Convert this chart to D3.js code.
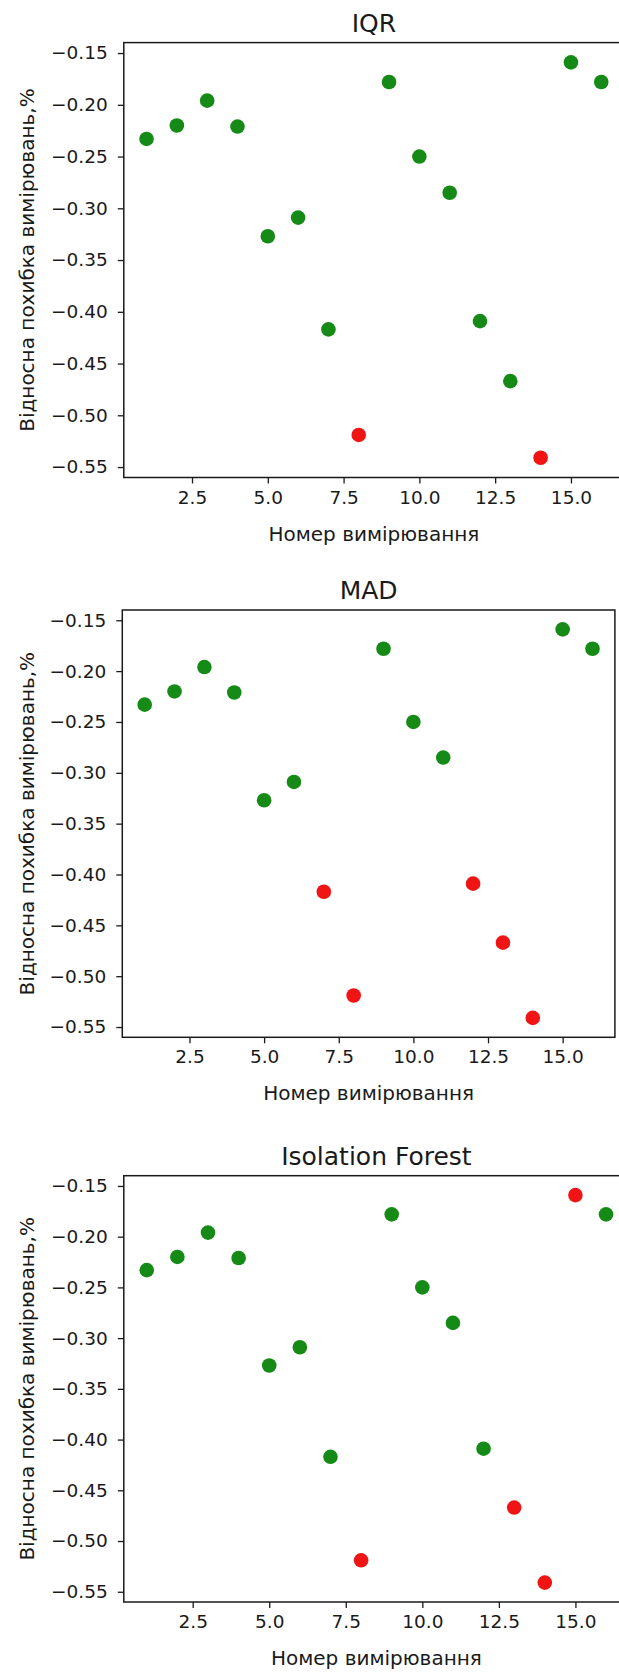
<!DOCTYPE html>
<html>
<head>
<meta charset="utf-8">
<script src="https://cdn.jsdelivr.net/npm/d3@7"></script>
<style>
  body { margin: 0; background: #fff; }
  text { font-family: "DejaVu Sans", sans-serif; fill: #1a1a1a; }
  .domain { stroke: #1a1a1a; stroke-width: 1.5px; }
  .tick line { stroke: #1a1a1a; stroke-width: 1.3px; }
</style>
</head>
<body>
<div id="chart"></div>
<script>
/* three scatter panels: outlier detection by method */

// measurement numbers and relative error values
var measurements = [1, 2, 3, 4, 5, 6, 7, 8, 9, 10, 11, 12, 13, 14, 15, 16];
var errors = [-0.233, -0.220, -0.196, -0.221, -0.327, -0.309, -0.417, -0.519,
              -0.178, -0.250, -0.285, -0.409, -0.467, -0.541, -0.159, -0.178];

// method titles and the measurements each one flags as outliers
var methods = ["IQR", "MAD", "Isolation Forest"];
var iqrOutliers = [8, 14];
var madOutliers = [7, 8, 12, 13, 14];
var forestOutliers = [8, 13, 14, 15];

// tick labels
var xTicks = [2.5, 5.0, 7.5, 10.0, 12.5, 15.0];
var yTicks = [-0.15, -0.20, -0.25, -0.30, -0.35, -0.40, -0.45, -0.50, -0.55];

var xTitle = "Номер вимірювання";
var yTitle = "Відносна похибка вимірювань,%";

var outlierSets = [iqrOutliers, madOutliers, forestOutliers];

// panel boxes in the picture (they differ a little)
var boxes = [
  {top: 42.6, bottom: 477.5, left: 123.8, right: 624},
  {top: 610, bottom: 1037.3, left: 122.3, right: 614.9},
  {top: 1175.7, bottom: 1602, left: 123.8, right: 629}
];

var svg = d3.select("#chart").append("svg")
            .attr("width", 619)
            .attr("height", 1674);

// matplotlib style 5% margins
var xMin = d3.min(measurements), xMax = d3.max(measurements);
var yMin = d3.min(errors), yMax = d3.max(errors);
var xPad = (xMax - xMin) * 0.05, yPad = (yMax - yMin) * 0.05;

var points = measurements.map(function(m, i) {
  return {n: m, err: errors[i]};
});

function minusFormat(fmt) {
  var f = d3.format(fmt);
  return function(d) { return f(d).replace("-", "\u2212"); };
}

methods.forEach(function(title, k) {
  var box = boxes[k];
  var outliers = outlierSets[k];

  var x = d3.scaleLinear()
            .domain([xMin - xPad, xMax + xPad])
            .range([box.left, box.right]);
  var y = d3.scaleLinear()
            .domain([yMin - yPad, yMax + yPad])
            .range([box.bottom, box.top]);

  var g = svg.append("g");

  // points
  g.selectAll("circle.pt")
    .data(points)
    .enter()
    .append("circle")
    .attr("class", "pt")
    .attr("cx", function(d) { return x(d.n); })
    .attr("cy", function(d) { return y(d.err); })
    .attr("r", 7.3)
    .attr("fill", function(d) {
      return outliers.indexOf(d.n) >= 0 ? "#f01414" : "#168a16";
    });

  // frame
  g.append("rect")
    .attr("x", box.left)
    .attr("y", box.top)
    .attr("width", box.right - box.left)
    .attr("height", box.bottom - box.top)
    .attr("fill", "none")
    .attr("stroke", "#1a1a1a")
    .attr("stroke-width", 1.5);

  // axes
  g.append("g")
    .attr("transform", "translate(0," + box.bottom + ")")
    .call(d3.axisBottom(x).tickValues(xTicks).tickFormat(d3.format(".1f"))
            .tickSize(6).tickPadding(7))
    .call(function(a) {
      a.select(".domain").remove();
      a.selectAll("text").style("font-size", "18.5px");
    });

  g.append("g")
    .attr("transform", "translate(" + box.left + ",0)")
    .call(d3.axisLeft(y).tickValues(yTicks).tickFormat(minusFormat(".2f"))
            .tickSize(6).tickPadding(10))
    .call(function(a) {
      a.select(".domain").remove();
      a.selectAll("text").style("font-size", "18.5px");
    });

  var cx = (box.left + box.right) / 2;

  // title
  g.append("text")
    .attr("x", cx)
    .attr("y", box.top - 11)
    .attr("text-anchor", "middle")
    .style("font-size", "25px")
    .text(title);

  // axis titles
  g.append("text")
    .attr("x", cx)
    .attr("y", box.bottom + 63)
    .attr("text-anchor", "middle")
    .style("font-size", "20px")
    .text(xTitle);

  g.append("text")
    .attr("transform", "translate(34," + (box.top + box.bottom) / 2 + ") rotate(-90)")
    .attr("text-anchor", "middle")
    .style("font-size", "20px")
    .text(yTitle);
});
</script>
</body>
</html>
